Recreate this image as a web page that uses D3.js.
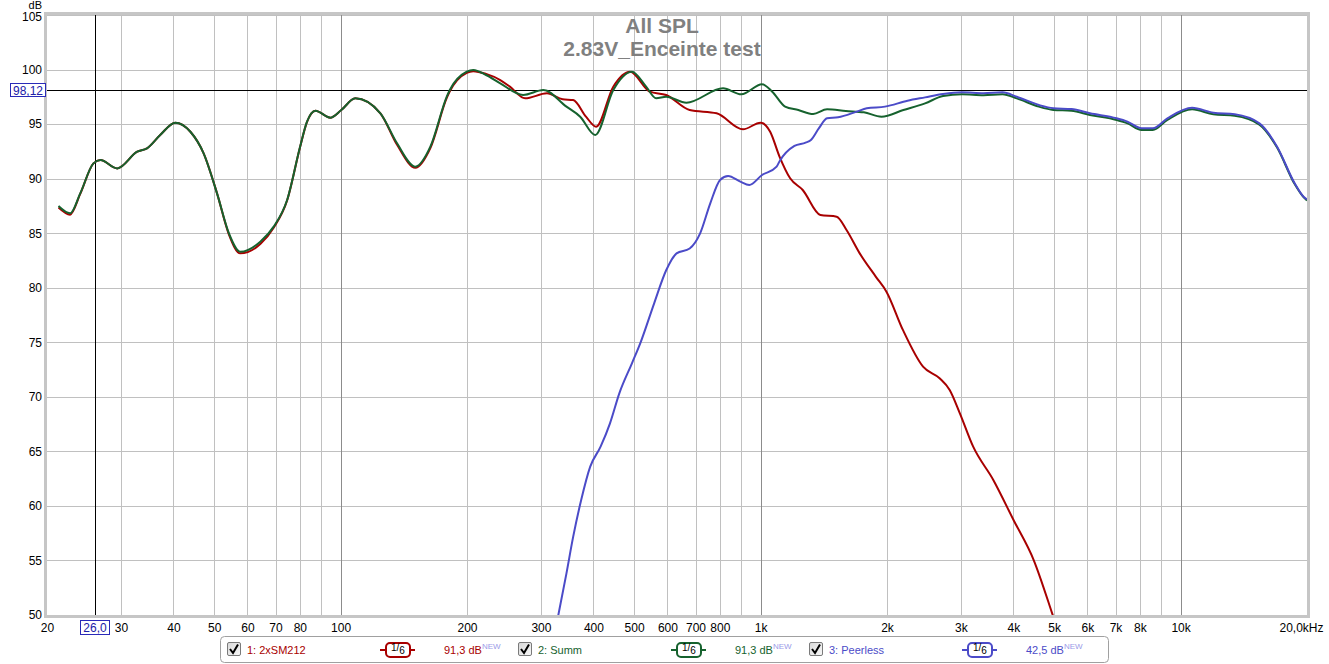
<!DOCTYPE html>
<html>
<head>
<meta charset="utf-8">
<script src="https://cdn.jsdelivr.net/npm/d3@7"></script>
<style>
  html, body { margin: 0; padding: 0; background: #fff; }
  svg { display: block; font-family: "Liberation Sans", Arial, sans-serif; }
</style>
</head>
<body>
<svg id="chart" width="1329" height="664"></svg>
<script>
// ---------- DATA ----------
const titleLines = ["All SPL", "2.83V_Enceinte test"];

const xTickValues = [20,30,40,50,60,70,80,100,200,300,400,500,600,700,800,1000,2000,3000,4000,5000,6000,7000,8000,10000,20000];
const xTickLabels = ["20","30","40","50","60","70","80","100","200","300","400","500","600","700","800","1k","2k","3k","4k","5k","6k","7k","8k","10k","20,0kHz"];
const yTickValues = [50,55,60,65,70,75,80,85,90,95,100,105];
const minorGridFreqs = [30,40,50,60,70,80,90,200,300,400,500,600,700,800,900,2000,3000,4000,5000,6000,7000,8000,9000];
const majorGridFreqs = [100,1000,10000];

const cursorFreq = 26.0;
const cursorDb = 98.12;

// Series 1: 2xSM212
const sm212Freq = [21.3,22.7,24.0,25.8,26.8,29.4,32.8,34.6,37.2,40.4,43.9,47.2,50.8,54.2,57.7,64.4,69.3,74.6,80.1,83.2,87.1,94.5,100.4,108.4,124.4,136.3,150.7,163.6,179,182,199.7,207,222,240,253,275,310,338,358,384,406,446,489,545,596,678,786,908,1000,1054,1110,1176,1260,1388,1518,1602,1722,1882,1994,2182,2437,2668,2820,2982,3208,3582,4002,4470,4946,5100];
const sm212Db   = [87.35,86.7,88.6,91.4,91.71,90.94,92.47,92.78,94.0,95.13,94.3,92.32,88.65,84.9,83.15,84.0,85.5,88.0,92.9,95.2,96.23,95.59,96.29,97.36,95.99,93.1,91.0,92.8,97.4,98.0,99.7,99.85,99.6,99.04,98.43,97.36,97.82,97.27,97.2,95.68,94.76,98.43,99.8,97.97,97.67,96.29,95.99,94.52,95.13,94.3,92.0,90.03,88.96,86.67,86.51,85.29,83.15,81.0,79.64,76.13,72.76,71.7,70.63,68.49,65.43,62.38,58.71,55.04,50.15,48.6];

// Series 2: Summ
const summFreq = [21.3,22.7,24.0,25.8,26.8,29.4,32.8,34.6,37.2,40.4,43.9,47.2,50.8,54.2,57.7,64.4,69.3,74.6,80.1,83.2,87.1,94.5,100.4,108.4,124.4,136.3,150.7,163.6,179,182,199.7,207,222,240,272,304,345,372,404,446,494,534,564,596,666,814,900,1008,1066,1144,1230,1334,1440,1596,1762,1940,2188,2464,2720,3018,3396,3768,4074,4598,4978,5498,6084,7040,7476,8078,8586,9304,10652,11972,13454,15408,16976,18692,19626,20000];
const summDb   = [87.49,86.82,88.65,91.4,91.71,90.94,92.47,92.78,94.0,95.13,94.3,92.32,88.65,85.0,83.3,84.22,85.6,88.04,92.93,95.22,96.23,95.59,96.29,97.36,95.99,93.24,91.1,92.93,97.51,98.12,99.8,99.96,99.5,98.74,97.67,98.12,96.6,95.68,94.0,98.12,99.8,98.43,97.36,97.5,96.96,98.28,97.73,98.65,97.97,96.6,96.29,95.92,96.35,96.2,96.08,95.68,96.29,96.9,97.57,97.73,97.64,97.73,97.36,96.6,96.3,96.22,95.84,95.38,95.07,94.46,94.46,95.38,96.35,95.9,95.76,94.95,92.85,89.5,88.3,88.0];

// Series 3: Peerless
const peerlessFreq = [322,330,345,358,374,393,416,438,461,494,517,558,596,631,678,718,759,801,837,895,940,1008,1092,1110,1204,1280,1318,1376,1440,1530,1694,1790,1978,2238,2464,2720,3018,3396,3768,4074,4598,4978,5498,6084,7040,7476,8078,8586,9304,10652,11972,13454,15408,16976,18692,19626,20000];
const peerlessDb   = [48.0,50.0,53.82,57.18,60.54,63.6,65.43,67.57,70.32,73.07,74.9,78.57,81.6,83.15,83.6,84.99,87.74,89.88,90.24,89.72,89.42,90.33,91.1,91.6,93.0,93.3,93.54,94.6,95.53,95.62,96.14,96.45,96.6,97.14,97.45,97.76,97.91,97.82,97.91,97.51,96.75,96.45,96.38,95.99,95.53,95.22,94.61,94.61,95.53,96.5,96.04,95.9,95.07,92.93,89.57,88.34,88.1];

const seriesNames = ["1: 2xSM212", "2: Summ", "3: Peerless"];
const seriesSmoothing = ["1/6", "1/6", "1/6"];
const seriesLevels = ["91,3 dB", "91,3 dB", "42,5 dB"];
const seriesColors = ["#a80000", "#16622e", "#4b4bc8"];

// ---------- LAYOUT ----------
const svg = d3.select("#chart");
const X0 = 47, X1 = 1307, Y0 = 15, Y1 = 615;
const x = d3.scaleLog().domain([20, 20000]).range([X0, X1]);
const y = d3.scaleLinear().domain([50, 105]).range([Y1, Y0]);

svg.append("rect").attr("x", X0).attr("y", Y0).attr("width", X1 - X0).attr("height", Y1 - Y0).attr("fill", "#fff");

// grid
const grid = svg.append("g");
grid.selectAll("line.hy").data(yTickValues).join("line")
  .attr("x1", X0).attr("x2", X1)
  .attr("y1", d => Math.round(y(d)) + 0.5).attr("y2", d => Math.round(y(d)) + 0.5)
  .attr("stroke", "#c0c0c0").attr("stroke-width", 1);
grid.selectAll("line.vx").data(minorGridFreqs).join("line")
  .attr("x1", d => Math.round(x(d)) + 0.5).attr("x2", d => Math.round(x(d)) + 0.5)
  .attr("y1", Y0).attr("y2", Y1)
  .attr("stroke", "#c0c0c0").attr("stroke-width", 1);
grid.selectAll("line.mx").data(majorGridFreqs).join("line")
  .attr("class", "mx")
  .attr("x1", d => Math.round(x(d)) + 0.5).attr("x2", d => Math.round(x(d)) + 0.5)
  .attr("y1", Y0).attr("y2", Y1)
  .attr("stroke", "#8c8c8c").attr("stroke-width", 1);

// cursor lines
svg.append("line").attr("x1", Math.round(x(cursorFreq)) + 0.5).attr("x2", Math.round(x(cursorFreq)) + 0.5)
  .attr("y1", Y0).attr("y2", Y1).attr("stroke", "#000").attr("stroke-width", 1);
svg.append("line").attr("x1", X0).attr("x2", X1)
  .attr("y1", Math.round(y(cursorDb)) + 0.5).attr("y2", Math.round(y(cursorDb)) + 0.5)
  .attr("stroke", "#000").attr("stroke-width", 1);

// title
svg.append("g").selectAll("text").data(titleLines).join("text")
  .attr("x", 662).attr("y", (d, i) => 33 + i * 23)
  .attr("text-anchor", "middle")
  .attr("font-size", 21).attr("font-weight", "bold")
  .attr("fill", "#808080")
  .text(d => d);

// curves
svg.append("clipPath").attr("id", "plotclip").append("rect")
  .attr("x", X0).attr("y", Y0).attr("width", X1 - X0).attr("height", Y1 - Y0);
const line = d3.line().x(d => x(d[0])).y(d => y(d[1])).curve(d3.curveMonotoneX);
const seriesData = [
  d3.zip(sm212Freq, sm212Db),
  d3.zip(summFreq, summDb),
  d3.zip(peerlessFreq, peerlessDb)
];
const curves = svg.append("g").attr("clip-path", "url(#plotclip)");
seriesData.forEach((s, i) => {
  curves.append("path").datum(s)
    .attr("d", line)
    .attr("fill", "none")
    .attr("stroke", seriesColors[i])
    .attr("stroke-width", 2)
    .attr("stroke-linejoin", "round");
});

// frame
svg.append("rect").attr("x", X0 - 1.5).attr("y", Y0 - 1.5)
  .attr("width", X1 - X0 + 3).attr("height", Y1 - Y0 + 3)
  .attr("fill", "none").attr("stroke", "#c6c6c6").attr("stroke-width", 3);

// axes
const xAxis = d3.axisBottom(x).tickValues(xTickValues)
  .tickFormat((d, i) => xTickLabels[i]).tickSize(0).tickPadding(8);
const gx = svg.append("g").attr("transform", `translate(0,${Y1})`).call(xAxis);
gx.select(".domain").remove();
gx.selectAll("text").attr("font-size", 12).attr("fill", "#000")
  .attr("font-family", "Liberation Sans, Arial, sans-serif");
gx.selectAll(".tick").filter(d => d === 20000).select("text")
  .attr("text-anchor", "end").attr("dx", 16);

const yAxis = d3.axisLeft(y).tickValues(yTickValues).tickSize(0).tickPadding(5);
const gy = svg.append("g").attr("transform", `translate(${X0},0)`).call(yAxis);
gy.select(".domain").remove();
gy.selectAll("text").attr("font-size", 12).attr("fill", "#000")
  .attr("font-family", "Liberation Sans, Arial, sans-serif");
gy.selectAll(".tick").filter(d => d === 105).select("text").attr("dy", "0.45em");
svg.append("text").attr("x", 42).attr("y", 9).attr("text-anchor", "end")
  .attr("font-size", 11).attr("fill", "#000").text("dB");

// cursor labels
const cy = y(cursorDb);
svg.append("rect").attr("x", 10.5).attr("y", Math.round(cy) - 6.5).attr("width", 35).attr("height", 13)
  .attr("fill", "#fff").attr("stroke", "#2a2ab8").attr("stroke-width", 1);
svg.append("text").attr("x", 28).attr("y", Math.round(cy) + 4.5).attr("text-anchor", "middle")
  .attr("font-size", 12).attr("fill", "#2020a8").text(String(cursorDb).replace(".", ","));
const cx = x(cursorFreq);
svg.append("rect").attr("x", Math.round(cx) - 14.5).attr("y", 620.5).attr("width", 29).attr("height", 14)
  .attr("fill", "#fff").attr("stroke", "#2a2ab8").attr("stroke-width", 1);
svg.append("text").attr("x", Math.round(cx)).attr("y", 632).attr("text-anchor", "middle")
  .attr("font-size", 12).attr("fill", "#2020a8").text(cursorFreq.toFixed(1).replace(".", ","));

// legend
const lg = svg.append("g");
lg.append("rect").attr("x", 220.5).attr("y", 636.5).attr("width", 888).attr("height", 26).attr("rx", 4)
  .attr("fill", "#fff").attr("stroke", "#a0a0a0");
const legendX = [227, 518, 809];
const defs = svg.append("defs");
const grad = defs.append("linearGradient").attr("id", "cbgrad").attr("x1", 0).attr("y1", 0).attr("x2", 1).attr("y2", 1);
grad.append("stop").attr("offset", "0%").attr("stop-color", "#d8d8d8");
grad.append("stop").attr("offset", "100%").attr("stop-color", "#f8f8f8");
seriesNames.forEach((name, i) => {
  const bx = legendX[i];
  const c = seriesColors[i];
  const g = lg.append("g");
  g.append("rect").attr("x", bx + 0.5).attr("y", 642.5).attr("width", 13).attr("height", 13).attr("rx", 1.5)
    .attr("fill", "url(#cbgrad)").attr("stroke", "#7a7a7a");
  g.append("path").attr("d", `M${bx + 3},${649} L${bx + 6},${653} L${bx + 11},${644.5}`)
    .attr("fill", "none").attr("stroke", "#000").attr("stroke-width", 2);
  g.append("text").attr("x", bx + 20).attr("y", 654).attr("font-size", 11).attr("fill", c).text(name);
  const sx = bx + 153;
  g.append("line").attr("x1", sx).attr("x2", sx + 35).attr("y1", 650).attr("y2", 650)
    .attr("stroke", c).attr("stroke-width", 2);
  g.append("rect").attr("x", sx + 6).attr("y", 643).attr("width", 24).attr("height", 14).attr("rx", 4)
    .attr("fill", "#fff").attr("stroke", c).attr("stroke-width", 2);
  const parts = seriesSmoothing[i].split("/");
  const ft = g.append("text").attr("x", sx + 11).attr("y", 652).attr("font-size", 10).attr("fill", "#000");
  ft.append("tspan").attr("dy", -1.5).text(parts[0]);
  ft.append("tspan").attr("dy", 0).text("/");
  ft.append("tspan").attr("dy", 3).text(parts[1]);
  const lt = g.append("text").attr("x", bx + 217).attr("y", 654).attr("font-size", 11).attr("fill", c);
  lt.append("tspan").text(seriesLevels[i]);
  lt.append("tspan").attr("font-size", 8).attr("dy", -5).attr("fill", "#9a9ae8").text("NEW");
});
</script>
</body>
</html>
